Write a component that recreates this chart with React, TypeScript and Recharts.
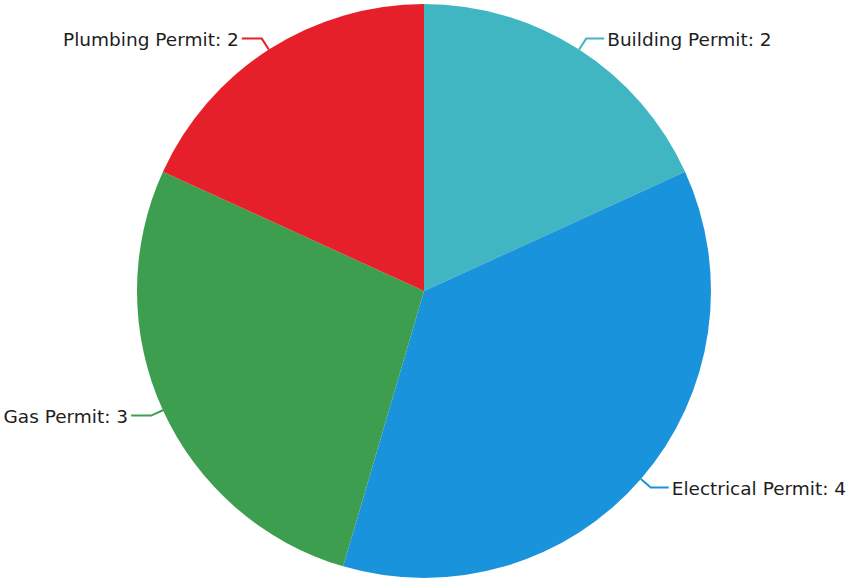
import React from "react";
import { PieChart, Pie, Cell } from "recharts";

const categories = ["Building Permit", "Electrical Permit", "Gas Permit", "Plumbing Permit"];
const counts = [2, 4, 3, 2];
const colors = ["#3fb6c1", "#1a93dd", "#3c9e4e", "#e6202b"];

const data = categories.map((name, i) => ({ name, value: counts[i] }));

const RAD = Math.PI / 180;

const renderLabel = (props: any) => {
  const { cx, cy, midAngle, outerRadius, name, value, index } = props;
  const cos = Math.cos(-midAngle * RAD);
  const sin = Math.sin(-midAngle * RAD);
  const sx = cx + outerRadius * cos;
  const sy = cy + outerRadius * sin;
  const mx = cx + (outerRadius + 13) * cos;
  const my = cy + (outerRadius + 13) * sin;
  const right = cos >= 0;
  const ex = mx + (right ? 18 : -20);
  const ey = my;
  const color = colors[index % colors.length];
  return (
    <g>
      <polyline
        points={`${sx},${sy} ${mx},${my} ${ex},${ey}`}
        fill="none"
        stroke={color}
        strokeWidth={2}
      />
      <text
        x={ex + (right ? 3 : -3)}
        y={ey + 1}
        textAnchor={right ? "start" : "end"}
        dominantBaseline="central"
        fill="#1e1e1e"
        fontSize={18.5}
        fontFamily="'DejaVu Sans', sans-serif"
      >
        {`${name}: ${value}`}
      </text>
    </g>
  );
};

export default function App() {
  return (
    <div style={{ position: "absolute", left: 0, top: 0, width: 850, height: 582, background: "#fff" }}>
      <PieChart width={850} height={582} margin={{ top: 0, right: 0, bottom: 0, left: 0 }}>
        <Pie
          data={data}
          dataKey="value"
          nameKey="name"
          cx={424}
          cy={291}
          outerRadius={287}
          startAngle={90}
          endAngle={-270}
          stroke="none"
          label={renderLabel}
          labelLine={false}
          isAnimationActive={false}
        >
          {data.map((d, i) => (
            <Cell key={d.name} fill={colors[i]} />
          ))}
        </Pie>
      </PieChart>
    </div>
  );
}
